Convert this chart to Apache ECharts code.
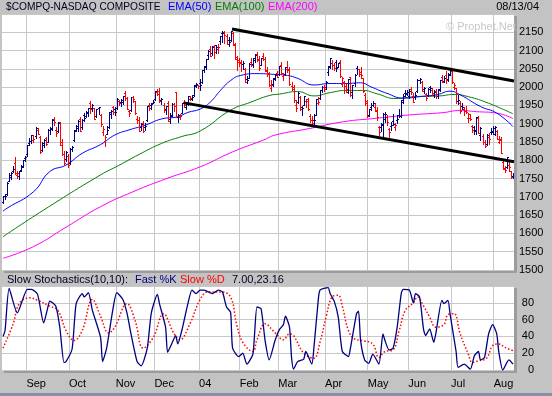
<!DOCTYPE html>
<html><head><meta charset="utf-8">
<script src="https://cdn.jsdelivr.net/npm/echarts@6/dist/echarts.min.js"></script>
<style>html,body{margin:0;padding:0;background:#c3c3c3;}#c{width:552px;height:396px;}</style>
</head><body><div id="c"></div>
<script>
// Daily bars, Aug 14 2003 .. Aug 13 2004 (252 trading days)
const opens = [
1687,1702,1707,1744,1755,1772,1792,1760,1758,1774,1784,1805,
1818,1848,1853,1856,1866,1882,1863,1829,1842,1860,1851,1884,1885,1914,1882,1880,1904,1849,1818,1803,1813,
1793,1830,1856,1884,1887,1912,1890,1924,1922,1928,1958,1944,1942,1922,1943,1925,1878,1852,1873,1890,1926,1947,1940,
1942,1961,1959,1965,1984,1969,1935,1937,1972,1961,1914,1911,1890,1903,1891,1910,1950,1950,1956,
1968,1987,1989,1964,1951,1940,1957,1913,1925,1955,1986,1918,1917,1930,1960,1946,1954,1968,1968,1978,2004,2005,
2012,2013,2048,2055,2087,2104,2093,2113,2114,2103,2127,2148,2150,2141,2130,2128,2148,2118,2083,2073,
2068,2064,2049,2021,2026,2070,2062,2080,2090,2078,2060,2084,2076,2048,2040,1999,2009,2025,2038,
2035,2061,2030,2036,2049,2050,2002,2000,1950,1960,1974,1947,1952,1962,1967,1920,1910,1910,1925,1957,1970,1991,2001,
2000,2042,2055,2067,2061,2069,2055,2068,2009,2014,2004,1988,2027,1986,2010,2052,2049,2042,2025,1979,1962,
1925,1945,1952,1945,1935,1890,1890,1898,1912,1918,1885,1893,1908,1890,1910,1925,1920,1960,1985,1981,
1977,1996,1975,1972,1989,2019,2014,1996,1981,1979,2000,1993,1978,1989,1975,1993,2027,2018,2032,2021,2036,
2044,2000,1997,1962,1958,1948,1941,1934,1916,1926,1895,1890,1879,1915,1869,1867,1850,1845,1864,1878,1876,
1872,1881,1849,1858,1795,1780,1782,1786,1770,1758];
const highs = [
1703,1708,1741,1765,1768,1785,1808,1770,1772,1786,1802,1812,
1843,1860,1870,1869,1890,1887,1866,1849,1858,1864,1886,1892,1912,1917,1891,1904,1906,1858,1825,1826,1816,
1833,1840,1884,1896,1909,1918,1913,1930,1934,1944,1961,1953,1944,1940,1947,1927,1893,1870,1893,1932,1937,1948,1945,
1970,1965,1967,1977,1989,1972,1937,1974,1976,1962,1920,1917,1901,1908,1901,1949,1956,1956,1965,
1990,1996,1997,1970,1956,1949,1961,1928,1958,1958,1987,1927,1927,1957,1965,1956,1975,1976,1978,2007,2012,2007,
2022,2048,2058,2078,2101,2113,2112,2114,2116,2117,2141,2153,2153,2146,2136,2154,2150,2121,2085,2080,
2074,2072,2052,2031,2065,2079,2079,2091,2096,2085,2081,2092,2082,2054,2042,2019,2026,2036,2044,
2058,2068,2040,2056,2071,2054,2015,2005,1966,1987,1977,1948,1977,1968,1970,1927,1922,1926,1968,1973,1993,2003,2007,
2017,2057,2080,2074,2066,2075,2067,2073,2029,2017,2010,2023,2029,2007,2035,2058,2050,2055,2026,1983,1966,
1941,1956,1962,1958,1945,1894,1902,1929,1932,1925,1889,1904,1927,1903,1923,1940,1965,1980,1993,1992,
1995,2001,1983,1988,2021,2026,2017,2000,1985,1997,2004,1998,1993,1995,1996,2020,2034,2030,2045,2038,2050,
2048,2012,1999,1979,1962,1957,1947,1949,1929,1927,1897,1894,1918,1920,1892,1872,1856,1871,1875,1889,1895,
1895,1884,1867,1863,1803,1785,1810,1794,1772,1764];
const lows = [
1683,1694,1705,1742,1750,1768,1762,1752,1748,1770,1781,1798,
1812,1842,1846,1849,1862,1871,1820,1826,1836,1843,1849,1873,1883,1896,1866,1876,1841,1814,1791,1798,1783,
1791,1826,1852,1880,1880,1881,1886,1908,1918,1922,1929,1934,1912,1918,1926,1894,1870,1840,1872,1888,1916,1926,1925,
1940,1950,1949,1955,1965,1940,1921,1934,1960,1926,1901,1880,1883,1878,1884,1908,1938,1941,1956,
1964,1978,1960,1953,1932,1926,1907,1902,1922,1935,1918,1905,1912,1930,1945,1940,1952,1965,1966,1977,2000,1997,
1991,2010,2041,2050,2077,2085,2087,2081,2093,2092,2119,2124,2122,2118,2112,2126,2115,2076,2047,2057,
2043,2049,2013,2011,2024,2058,2055,2069,2072,2046,2060,2074,2043,2031,2004,1990,2004,2019,2027,
2032,2037,2020,2032,2041,2007,1991,1960,1935,1956,1937,1925,1951,1945,1938,1904,1896,1898,1923,1954,1967,1986,1990,
1995,2033,2051,2050,2048,2045,2054,2027,2004,1983,1988,1985,1977,1970,2003,2037,2030,2026,1986,1951,1917,
1920,1938,1948,1934,1909,1869,1881,1867,1906,1896,1865,1882,1896,1884,1903,1917,1918,1958,1975,1978,
1970,1982,1959,1968,1988,2012,1989,1985,1966,1975,1988,1978,1974,1971,1970,1990,2013,2014,2012,2017,2033,
2012,1994,1957,1953,1929,1941,1925,1928,1906,1909,1877,1872,1873,1874,1856,1845,1835,1842,1844,1871,1872,
1869,1857,1847,1820,1775,1768,1780,1771,1752,1751];
const closes = [
1701,1702,1739,1761,1766,1777,1765,1764,1770,1782,1800,1810,
1841,1852,1868,1858,1888,1873,1823,1846,1855,1845,1884,1887,1909,1905,1874,1901,1843,1817,1792,1824,1787,
1832,1836,1880,1893,1907,1881,1911,1915,1933,1943,1939,1951,1913,1939,1946,1898,1885,1865,1882,1932,1936,1932,1932,
1967,1957,1960,1976,1970,1941,1930,1973,1967,1930,1909,1881,1899,1881,1893,1948,1944,1953,1960,
1989,1980,1961,1968,1937,1948,1908,1922,1955,1949,1918,1924,1922,1956,1951,1955,1975,1969,1973,2006,2009,2003,
2006,2047,2057,2077,2100,2086,2111,2096,2111,2109,2140,2147,2142,2119,2124,2153,2116,2078,2068,2066,
2063,2066,2015,2019,2064,2060,2075,2089,2073,2053,2080,2076,2045,2037,2007,2005,2023,2032,2029,
2058,2039,2033,2055,2047,2008,1996,1964,1943,1984,1940,1943,1976,1962,1940,1909,1901,1909,1967,1960,1992,2001,1994,
2015,2057,2079,2060,2051,2052,2065,2030,2024,2002,1995,2021,1978,2005,2032,2049,2036,2032,1989,1958,1920,
1939,1950,1957,1937,1917,1876,1896,1926,1926,1904,1876,1897,1898,1896,1912,1922,1964,1976,1984,1986,
1990,1988,1960,1978,2020,2023,1990,1999,1970,1995,1998,1983,1986,1975,1994,2020,2015,2025,2019,2034,2048,
2015,2006,1963,1966,1935,1946,1936,1932,1915,1912,1883,1883,1917,1875,1889,1850,1839,1869,1858,1881,1887,
1892,1858,1855,1821,1777,1774,1809,1782,1753,1757];

const monthStarts = [12,33,56,75,97,117,136,159,180,200,221,242];
const monthLabels = ['Sep','Oct','Nov','Dec','04','Feb','Mar','Apr','May','Jun','Jul','Aug'];

// indicator lines: [day index, value]
const ema50 = [[0,1661],[2,1669],[15,1714],[23,1769],[31,1787],[39,1819],[48,1843],[55,1869],[62,1883],[70,1896],[78,1913],[86,1919],[91,1931],[97,1940],[102,1959],[107,1991],[112,2018],[117,2032],[125,2037],[133,2035],[140,2032],[145,2024],[153,2006],[161,2010],[169,2010],[176,2012],[181,2001],[189,1983],[197,1970],[205,1974],[214,1980],[220,1989],[225,1979],[235,1947],[243,1929],[251,1892]];
const ema100 = [[0,1591],[20,1664],[48,1760],[57,1786],[67,1816],[78,1846],[88,1865],[97,1880],[112,1937],[122,1959],[131,1977],[136,1981],[145,1988],[153,1976],[161,1985],[169,1991],[177,1991],[184,1982],[193,1969],[203,1974],[215,1976],[222,1980],[229,1974],[239,1956],[251,1927]];
const ema200 = [[0,1532],[15,1564],[31,1617],[48,1673],[64,1714],[81,1751],[97,1782],[113,1823],[128,1855],[134,1869],[151,1887],[167,1905],[184,1915],[200,1924],[216,1930],[225,1936],[233,1933],[243,1929],[251,1914]];
const channelUpper = [[112.7,2159],[251.5,2017]];
const channelLower = [[89.1,1957],[251.5,1796]];

const stochK = [[0,40],[1,47],[3,97],[7,68],[12,96],[14,96],[17,90],[20,56],[22,74],[23,82],[26,76],[28,50],[30,9],[31,10],[34,25],[36,79],[39,91],[40,87],[42,92],[44,71],[48,39],[49,10],[51,26],[54,71],[56,92],[59,84],[61,68],[63,43],[66,10],[68,5],[71,26],[73,68],[76,90],[77,79],[80,51],[81,21],[83,31],[85,41],[86,31],[88,47],[91,79],[93,95],[95,91],[97,95],[99,95],[103,91],[106,95],[108,93],[110,75],[112,69],[113,26],[116,16],[118,20],[120,7],[123,19],[125,75],[127,73],[129,35],[131,12],[134,36],[136,48],[138,54],[139,64],[141,51],[142,15],[143,1],[145,10],[148,13],[149,22],[152,7],[153,26],[155,79],[156,95],[160,98],[161,91],[163,82],[165,63],[167,22],[170,16],[171,26],[174,67],[175,70],[176,35],[178,12],[180,8],[182,19],[185,7],[187,43],[188,35],[190,24],[192,26],[194,51],[196,91],[197,96],[200,95],[202,80],[203,91],[205,87],[207,48],[208,41],[209,45],[210,49],[212,33],[213,43],[216,83],[217,79],[219,83],[220,67],[223,22],[224,3],[227,7],[230,1],[232,17],[234,22],[235,12],[237,15],[239,43],[241,54],[243,43],[244,22],[246,0],[249,12],[251,7]];
const stochD = [[0,26],[5,55],[8,79],[13,86],[17,83],[23,76],[27,71],[31,47],[35,35],[39,47],[44,84],[48,64],[52,44],[55,51],[61,79],[65,59],[69,26],[74,39],[79,67],[84,44],[87,36],[92,55],[97,84],[101,93],[107,93],[112,87],[115,54],[118,33],[123,22],[125,36],[129,55],[134,44],[138,36],[141,43],[143,41],[148,20],[153,14],[156,33],[159,63],[162,87],[165,89],[167,76],[170,47],[173,37],[177,35],[182,31],[185,15],[188,22],[192,24],[195,47],[198,71],[202,80],[204,87],[207,76],[210,63],[213,51],[217,54],[219,66],[222,67],[225,43],[229,19],[231,9],[234,11],[238,14],[241,29],[244,31],[247,27],[251,23]];

const FONT = '"Liberation Sans", Arial, sans-serif';
const bars = closes.map((c, i) => [i, opens[i], highs[i], lows[i], c, (i > 0 && c < closes[i-1]) ? 1 : 0]);

function renderBar(params, api) {
  const i = api.value(0);
  const pH = api.coord([i, api.value(2)]);
  const pL = api.coord([i, api.value(3)]);
  const pO = api.coord([i, api.value(1)]);
  const pC = api.coord([i, api.value(4)]);
  const x = Math.round(pH[0]);
  const col = api.value(5) ? '#ff0000' : '#000080';
  const top = Math.round(pH[1]), bot = Math.round(pL[1]);
  return {type: 'group', children: [
    {type: 'rect', shape: {x: x, y: top, width: 1, height: Math.max(1, bot - top + 1)}, style: {fill: col}},
    {type: 'rect', shape: {x: x - 1, y: Math.round(pO[1]), width: 1, height: 1}, style: {fill: col}},
    {type: 'rect', shape: {x: x + 1, y: Math.round(pC[1]), width: 1, height: 1}, style: {fill: col}}
  ]};
}

const gridTicks = monthStarts.map(v => v - 0.5);
const chart = echarts.init(document.getElementById('c'));
chart.setOption({
  animation: false,
  backgroundColor: '#c3c3c3',
  grid: [
    {left: 2, top: 14, width: 512, height: 256, show: true, backgroundColor: '#ffffff', borderWidth: 0},
    {left: 2, top: 286, width: 512, height: 84, show: true, backgroundColor: '#ffffff', borderWidth: 0}
  ],
  xAxis: [
    {gridIndex: 0, type: 'value', min: -0.5, max: 251.5,
     axisLine: {show: false}, axisTick: {show: false, customValues: gridTicks},
     axisLabel: {show: false, customValues: gridTicks},
     splitLine: {show: true, lineStyle: {color: '#c8c8c8', width: 1}}},
    {gridIndex: 1, type: 'value', min: -0.5, max: 251.5,
     axisLine: {show: false}, axisTick: {show: false, customValues: gridTicks},
     axisLabel: {show: true, customValues: gridTicks, align: 'left', margin: 8, color: '#000', fontSize: 11, fontFamily: FONT,
       formatter: v => monthLabels[monthStarts.indexOf(Math.round(v + 0.5))] || ''},
     splitLine: {show: true, lineStyle: {color: '#c8c8c8', width: 1}}}
  ],
  yAxis: [
    {gridIndex: 0, type: 'value', position: 'right', min: 1500, max: 2200, interval: 50,
     axisLine: {show: false}, axisTick: {show: false},
     axisLabel: {margin: 5, color: '#000', fontSize: 11, fontFamily: FONT, showMaxLabel: false, formatter: v => String(v)},
     splitLine: {lineStyle: {color: '#c8c8c8', width: 1}}},
    {gridIndex: 1, type: 'value', position: 'right', min: 0, max: 100, interval: 20,
     axisLine: {show: false}, axisTick: {show: false},
     axisLabel: {margin: 20, align: 'right', color: '#000', fontSize: 11, fontFamily: FONT, showMaxLabel: false, formatter: v => String(v)},
     splitLine: {lineStyle: {color: '#c8c8c8', width: 1}}}
  ],
  series: [
    {type: 'line', xAxisIndex: 0, yAxisIndex: 0, data: ema200, symbol: 'none', smooth: 0.5, lineStyle: {color: '#ff00ff', width: 1}, z: 2},
    {type: 'line', xAxisIndex: 0, yAxisIndex: 0, data: ema100, symbol: 'none', smooth: 0.5, lineStyle: {color: '#008000', width: 1}, z: 2},
    {type: 'line', xAxisIndex: 0, yAxisIndex: 0, data: ema50, symbol: 'none', smooth: 0.5, lineStyle: {color: '#0000ff', width: 1}, z: 2},
    {type: 'custom', xAxisIndex: 0, yAxisIndex: 0, data: bars, renderItem: renderBar, clip: true,
     encode: {x: 0, y: [1, 2, 3, 4]}, z: 3},
    {type: 'line', xAxisIndex: 0, yAxisIndex: 0, data: channelUpper, symbol: 'none', lineStyle: {color: '#000', width: 3}, z: 4},
    {type: 'line', xAxisIndex: 0, yAxisIndex: 0, data: channelLower, symbol: 'none', lineStyle: {color: '#000', width: 3}, z: 4},
    {type: 'line', xAxisIndex: 1, yAxisIndex: 1, data: stochD, symbol: 'none', smooth: 0.4, lineStyle: {color: '#ff0000', width: 1.5, type: [1.5, 2]}, z: 2},
    {type: 'line', xAxisIndex: 1, yAxisIndex: 1, data: stochK, symbol: 'none', smooth: 0.2, lineStyle: {color: '#000080', width: 1.3}, z: 3}
  ],
  graphic: [
    {type: 'rect', shape: {x: 514, y: 16, width: 3, height: 257}, style: {fill: '#9c9c9c'}, z: -1},
    {type: 'rect', shape: {x: 4, y: 270, width: 513, height: 3}, style: {fill: '#9c9c9c'}, z: -1},
    {type: 'rect', shape: {x: 514, y: 288, width: 3, height: 85}, style: {fill: '#9c9c9c'}, z: -1},
    {type: 'rect', shape: {x: 4, y: 370, width: 513, height: 3}, style: {fill: '#9c9c9c'}, z: -1},
    {type: 'rect', shape: {x: 0, y: 393, width: 552, height: 3}, style: {fill: '#8890a8'}, z: -1},
    {type: 'text', x: 6, y: 7, style: {text: '$COMPQ-NASDAQ COMPOSITE', fill: '#000020', font: '10.2px ' + FONT, verticalAlign: 'middle'}},
    {type: 'text', x: 168, y: 7, style: {text: 'EMA(50)', fill: '#0000ff', font: '11px ' + FONT, verticalAlign: 'middle'}},
    {type: 'text', x: 215, y: 7, style: {text: 'EMA(100)', fill: '#008000', font: '11px ' + FONT, verticalAlign: 'middle'}},
    {type: 'text', x: 268, y: 7, style: {text: 'EMA(200)', fill: '#ff00ff', font: '11px ' + FONT, verticalAlign: 'middle'}},
    {type: 'text', x: 539, y: 7, style: {text: '08/13/04', fill: '#000', font: '11px ' + FONT, align: 'right', verticalAlign: 'middle'}},
    {type: 'text', x: 446, y: 27, style: {text: '\u00a9 Prophet.Net', fill: '#c8c8c8', font: '11px ' + FONT, verticalAlign: 'middle'}, z: 1},
    {type: 'text', x: 7, y: 280, style: {text: 'Slow Stochastics(10,10):', fill: '#000020', font: '11px ' + FONT, verticalAlign: 'middle'}},
    {type: 'text', x: 135, y: 280, style: {text: 'Fast %K', fill: '#000080', font: '11px ' + FONT, verticalAlign: 'middle'}},
    {type: 'text', x: 180, y: 280, style: {text: 'Slow %D', fill: '#ff0000', font: '11px ' + FONT, verticalAlign: 'middle'}},
    {type: 'text', x: 232, y: 280, style: {text: '7.00,23.16', fill: '#000020', font: '11px ' + FONT, verticalAlign: 'middle'}}
  ]
});
</script></body></html>
